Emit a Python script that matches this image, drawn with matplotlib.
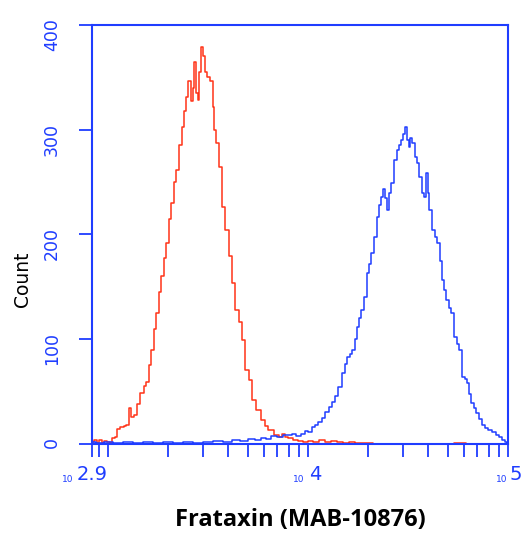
import numpy as np
import matplotlib
matplotlib.use('Agg')
import matplotlib.pyplot as plt
from matplotlib.ticker import FixedLocator, NullFormatter

# red histogram (isotype control): log10 intensity, count
red_log = [2.92, 2.935, 2.95, 2.96, 2.975, 2.985, 3.00, 3.015, 3.025, 3.04,
           3.05, 3.07, 3.085, 3.095, 3.11, 3.12, 3.135, 3.15, 3.17, 3.185,
           3.195, 3.21, 3.22, 3.235, 3.245, 3.26, 3.27, 3.285, 3.295, 3.31,
           3.32, 3.335, 3.345, 3.36, 3.375, 3.385, 3.393, 3.407, 3.418, 3.427,
           3.435, 3.445, 3.452, 3.46, 3.468, 3.48, 3.49, 3.50, 3.518, 3.527,
           3.535, 3.545, 3.56, 3.575, 3.595, 3.61, 3.625, 3.645, 3.66, 3.675,
           3.695, 3.71, 3.725, 3.75, 3.775, 3.79, 3.81, 3.845, 3.86, 3.875,
           3.89, 3.91, 3.94, 3.96, 3.99, 4.01, 4.04, 4.07, 4.10, 4.13,
           4.16, 4.19, 4.22, 4.25, 4.28, 4.31, 4.34, 4.40, 4.46, 4.52,
           4.60, 4.70, 4.76, 4.78, 4.80, 4.90, 5.0]
red_count = [2, 4, 1, 4, 1, 3, 2, 1, 6, 7,
             14, 16, 17, 18, 34, 26, 28, 38, 49, 55,
             59, 75, 90, 110, 125, 145, 160, 178, 192, 215,
             230, 250, 262, 285, 303, 318, 331, 347, 327, 340,
             365, 335, 328, 355, 379, 370, 355, 350, 347, 322,
             300, 287, 264, 226, 204, 179, 154, 128, 116, 99,
             71, 61, 42, 32, 23, 17, 13, 9, 7, 10,
             7, 6, 4, 3, 2, 3, 2, 4, 2, 3,
             2, 1, 2, 1, 1, 1, 0, 0, 0, 0,
             0, 0, 1, 1, 0, 0, 0]

# blue histogram (Frataxin stained)
blue_log = [2.92, 2.96, 3.00, 3.05, 3.10, 3.15, 3.20, 3.25, 3.30, 3.35,
            3.40, 3.45, 3.50, 3.55, 3.60, 3.64, 3.68, 3.72, 3.75, 3.78,
            3.80, 3.83, 3.86, 3.89, 3.91, 3.93, 3.95, 3.975, 3.99, 4.01,
            4.025, 4.04, 4.06, 4.075, 4.095, 4.11, 4.125, 4.14, 4.16, 4.175,
            4.19, 4.20, 4.215, 4.225, 4.24, 4.25, 4.26, 4.27, 4.285, 4.30,
            4.31, 4.32, 4.335, 4.35, 4.36, 4.37, 4.38, 4.39, 4.40, 4.41,
            4.42, 4.435, 4.45, 4.46, 4.47, 4.48, 4.49, 4.50, 4.505, 4.515,
            4.525, 4.54, 4.55, 4.56, 4.575, 4.585, 4.595, 4.60, 4.61, 4.625,
            4.64, 4.65, 4.665, 4.675, 4.685, 4.695, 4.71, 4.72, 4.735, 4.75,
            4.76, 4.775, 4.79, 4.80, 4.81, 4.82, 4.835, 4.845, 4.86, 4.875,
            4.89, 4.91, 4.93, 4.945, 4.96, 4.975, 4.99, 5.0]
blue_count = [2, 1, 2, 1, 2, 1, 2, 1, 2, 1,
              2, 1, 2, 3, 2, 4, 3, 5, 4, 6,
              5, 8, 7, 9, 9, 10, 8, 10, 12, 11,
              16, 18, 21, 25, 31, 35, 40, 46, 54, 68,
              76, 83, 86, 90, 100, 112, 120, 128, 140, 163,
              172, 182, 198, 217, 228, 236, 243, 235, 223, 240,
              249, 271, 281, 285, 290, 296, 303, 290, 284, 292,
              287, 274, 268, 255, 240, 236, 259, 240, 223, 204,
              198, 192, 175, 157, 147, 137, 130, 125, 102, 95,
              90, 64, 62, 58, 48, 39, 34, 30, 24, 18,
              15, 13, 11, 9, 7, 4, 2, 1]

y_ticks = [0, 100, 200, 300, 400]
x_label_pos = [10 ** 2.92, 1e4, 1e5]
x_label_exp = ['2.9', '4', '5']
x_minor = [900] + [k * 1000 for k in range(1, 10)] + [k * 10000 for k in range(2, 10)]

# horizontal offsets (px) of the small "10" right edge and the exponent left edge
base_dx = [-19, -4, -1]
exp_dx = [-15, 1, 2]

blue = '#1f3dff'
red = '#ff3318'

fig = plt.figure(figsize=(5.28, 5.42), dpi=100)
ax = fig.add_axes([92 / 528, 1 - 444 / 542, 416 / 528, 419 / 542])

ax.plot(10 ** np.array(red_log), red_count, color=red, lw=1.1, drawstyle='steps-mid')
ax.plot(10 ** np.array(blue_log), blue_count, color=blue, lw=1.1, drawstyle='steps-mid')

ax.set_xscale('log')
ax.set_xlim(10 ** 2.92, 1e5)
ax.set_ylim(0, 400)

for s in ax.spines.values():
    s.set_color(blue)
    s.set_linewidth(1.5)

ax.xaxis.set_major_locator(FixedLocator(x_label_pos))
ax.xaxis.set_minor_locator(FixedLocator(x_minor))
ax.xaxis.set_major_formatter(NullFormatter())
ax.xaxis.set_minor_formatter(NullFormatter())
ax.tick_params(axis='x', which='both', direction='out', length=9, width=1.3,
               color=blue, top=False)

ax.set_yticks(y_ticks)
ax.set_yticklabels([str(v) for v in y_ticks])
ax.tick_params(axis='y', direction='out', length=9.5, width=1.3, color=blue,
               labelcolor=blue, labelsize=12.5, labelrotation=90, pad=13, right=False)

# x tick labels: tiny "10" followed by a large exponent
for pos, ex, bdx, edx in zip(x_label_pos, x_label_exp, base_dx, exp_dx):
    ax.annotate('10', xy=(pos, 0), xycoords=('data', 'axes fraction'),
                xytext=(bdx * 0.72, -27.4), textcoords='offset points',
                ha='right', va='baseline', fontsize=6.5, color=blue)
    ax.annotate(ex, xy=(pos, 0), xycoords=('data', 'axes fraction'),
                xytext=(edx * 0.72, -26), textcoords='offset points',
                ha='left', va='baseline', fontsize=14, color=blue)

ax.set_xlabel('Frataxin (MAB-10876)', fontsize=17, fontweight='bold',
              family='Open Sans', color='black', va='center')
ax.xaxis.set_label_coords(0.5, -0.181)
ax.set_ylabel('Count', fontsize=13.5, color='black', va='center')
ax.yaxis.set_label_coords(-0.168, 0.393)

fig.savefig('out.png', dpi=100)
